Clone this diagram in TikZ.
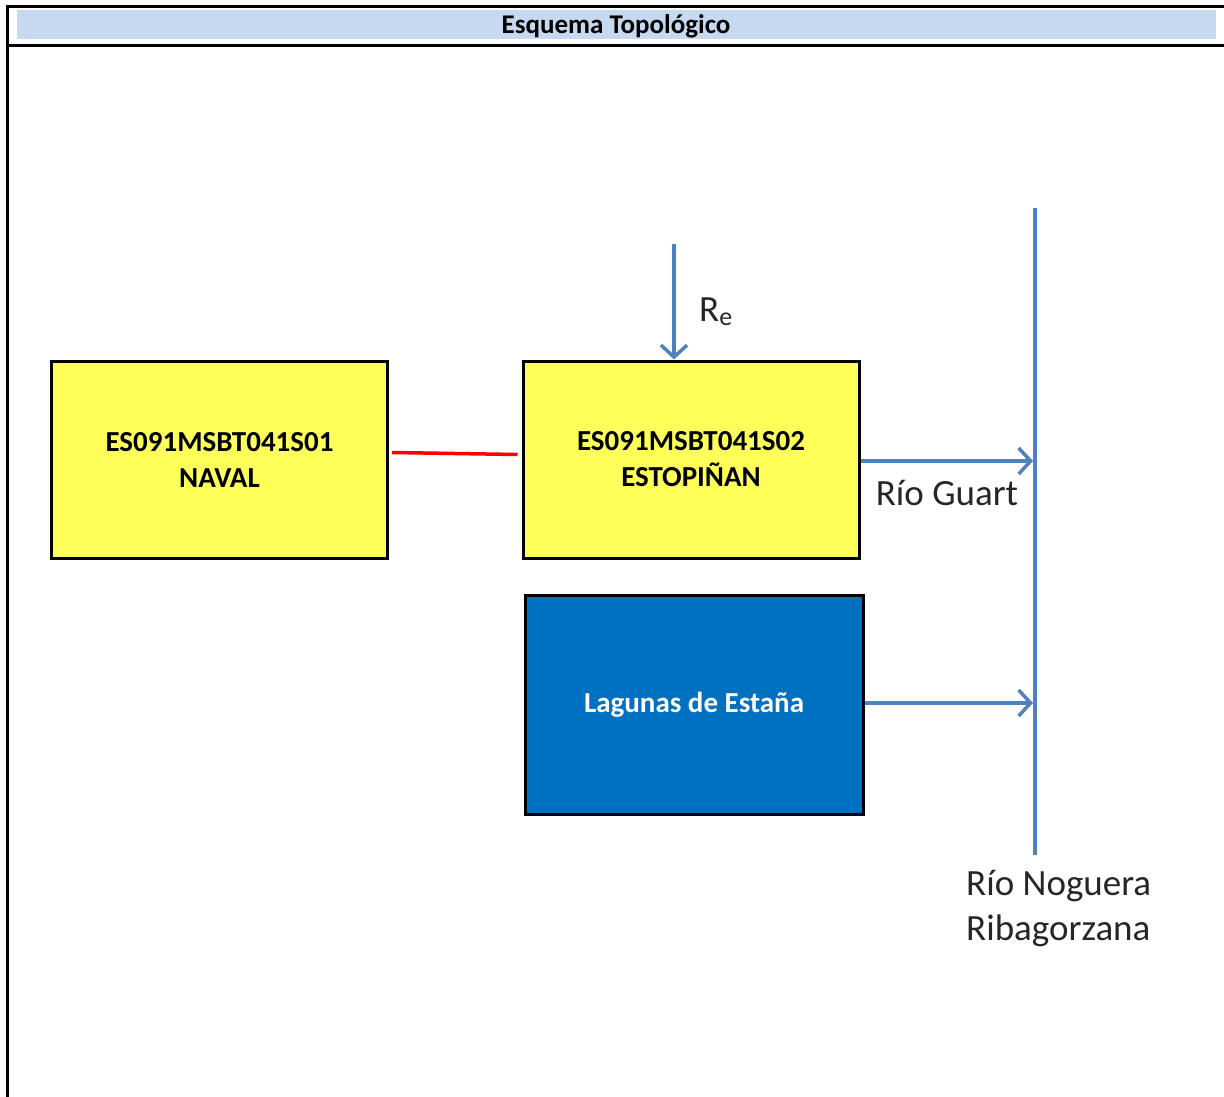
\documentclass[tikz,border=0pt]{standalone}
\usepackage{fontspec}
\setmainfont{Carlito}
\usetikzlibrary{arrows.meta}
\definecolor{hdrfill}{HTML}{C6D9F1}
\definecolor{boxyellow}{HTML}{FFFF5A}
\definecolor{boxblue}{HTML}{0070C0}
\definecolor{flowblue}{HTML}{4F81BD}
\tikzset{
  frameline/.style={line width=3pt, black},
  aquifer/.style={draw=black, line width=3pt, fill=boxyellow, minimum width=336pt, minimum height=197pt, inner sep=0pt, align=center, font=\fontsize{29}{36}\selectfont\bfseries},
  lagoon/.style={draw=black, line width=3pt, fill=boxblue, minimum width=338pt, minimum height=219pt, inner sep=0pt, align=center, text=white, font=\fontsize{29}{36}\selectfont\bfseries},
  flow/.style={draw=flowblue, line width=3.5pt, -{Straight Barb[length=12pt, width=26pt, line width=3.5pt]}},
  river/.style={draw=flowblue, line width=3.5pt},
  lbl/.style={inner sep=0pt, font=\fontsize{37}{45}\selectfont, text=black!85},
  link/.style={draw=red, line width=3.5pt}
}
\begin{document}
\begin{tikzpicture}[x=1pt, y=-1pt]
  \useasboundingbox (0,0) rectangle (1224,1097);
  % header band and frame
  \fill[hdrfill] (17,10) rectangle (1216,39);
  \node[inner sep=0pt, font=\fontsize{27}{30}\selectfont\bfseries] (title) at (616,26) {Esquema Topológico};
  \draw[frameline] (7,7) -- (1224,7);
  \draw[frameline] (7,46) -- (1224,46);
  \draw[frameline] (7,5.5) -- (7,1097);

  % groundwater bodies
  \node[aquifer] (naval) at (219.5,459.5) {ES091MSBT041S01\\NAVAL};
  \node[aquifer] (esto) at (691,459.5) {ES091MSBT041S02\\ESTOPIÑAN};
  \node[lagoon] (lag) at (694,704.5) {Lagunas de Estaña};

  % river Noguera Ribagorzana
  \coordinate (rtop) at (1035,208);
  \coordinate (rbot) at (1035,855);
  \draw[river] (rtop) -- (rbot);
  \node[lbl, anchor=north west, align=left] (nog) at (966,870) {Río Noguera\\Ribagorzana};

  % recharge
  \coordinate (rech) at (674,244);
  \draw[flow] (rech) -- (esto.north -| rech);
  \node[lbl, anchor=west] (re) at (699,312) {R\textsubscript{e}};

  % connection between the two bodies
  \path (naval.east) ++(3,-7) coordinate (la) (esto.west) ++(-4,-5) coordinate (lb);
  \draw[link] (la) -- (lb);

  % outflows to the river
  \coordinate (g1) at (1033,461);
  \draw[flow] (esto.east |- g1) -- (g1);
  \node[lbl, anchor=north] (guart) at (947,480) {Río Guart};
  \coordinate (g2) at (1033,703);
  \draw[flow] (lag.east |- g2) -- (g2);
\end{tikzpicture}
\end{document}
